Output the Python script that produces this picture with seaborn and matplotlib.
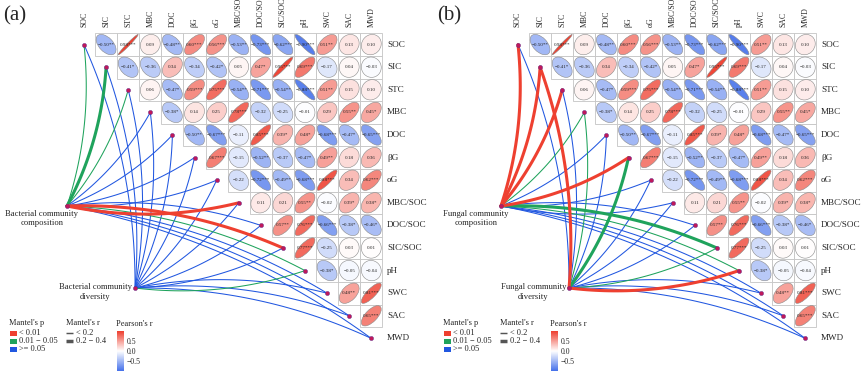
import numpy as np
import pandas as pd
import matplotlib
matplotlib.use("Agg")
import matplotlib.pyplot as plt
import seaborn as sns
from matplotlib.patches import Ellipse, Rectangle
from matplotlib.colors import LinearSegmentedColormap, Normalize
from matplotlib.cm import ScalarMappable

sns.set_theme(style="white")
plt.rcParams["font.family"] = ["Liberation Serif", "DejaVu Serif"]

variables = ["SOC", "SIC", "STC", "MBC", "DOC", "βG", "αG", "MBC/SOC",
             "DOC/SOC", "SIC/SOC", "pH", "SWC", "SAC", "MWD"]

# Pearson's r right of the diagonal, one list per row
row_soc = ["-0.50**", "0.98***", "0.09", "-0.48**", "0.60***", "0.56***", "-0.53**",
           "-0.73***", "-0.62***", "-0.90***", "0.51**", "0.13", "0.10"]
row_sic = ["-0.41*", "-0.36", "0.34", "-0.34", "-0.42*", "0.05", "0.47*", "0.95***",
           "0.69***", "-0.17", "0.04", "-0.03"]
row_stc = ["0.06", "-0.47*", "0.59***", "0.75***", "-0.54**", "-0.71***", "-0.54**",
           "-0.88***", "0.51**", "0.15", "0.10"]
row_mbc = ["-0.38*", "0.14", "0.25", "0.78***", "-0.32", "-0.25", "-0.01", "0.29",
           "0.55**", "0.45*"]
row_doc = ["-0.50**", "-0.67***", "-0.11", "0.85***", "0.39*", "0.48*", "-0.68***",
           "-0.47*", "-0.65***"]
row_bg = ["0.67***", "-0.15", "-0.52**", "-0.37", "-0.47*", "0.49**", "0.18", "0.36"]
row_ag = ["-0.22", "-0.72***", "-0.49**", "-0.68***", "0.88***", "0.34", "0.62***"]
row_mbc_soc = ["0.11", "0.21", "0.55**", "-0.02", "0.39*", "0.38*"]
row_doc_soc = ["0.57**", "0.76***", "-0.66***", "-0.38*", "-0.46*"]
row_sic_soc = ["0.77***", "-0.25", "0.03", "0.01"]
row_ph = ["-0.38*", "-0.05", "-0.04"]
row_swc = ["0.48**", "0.81***"]
row_sac = ["0.65***"]
matrix_rows = [row_soc, row_sic, row_stc, row_mbc, row_doc, row_bg, row_ag,
               row_mbc_soc, row_doc_soc, row_sic_soc, row_ph, row_swc, row_sac, []]

# Mantel test classes per variable: p 0 "<0.01", 1 "0.01-0.05", 2 ">=0.05"; r 0 "<0.2", 1 "0.2-0.4"
p_levels = ["< 0.01", "0.01 \u2212 0.05", ">= 0.05"]
r_levels = ["< 0.2", "0.2 \u2212 0.4"]
bact_comp_p = [1, 1, 1, 2, 2, 2, 2, 0, 2, 0, 1, 2, 2, 2]
bact_comp_r = [0, 1, 0, 0, 0, 0, 0, 1, 0, 1, 0, 0, 0, 0]
bact_div_p = [2, 2, 2, 2, 2, 2, 2, 2, 2, 2, 1, 2, 2, 2]
bact_div_r = [0, 0, 0, 0, 0, 0, 0, 0, 0, 0, 0, 0, 0, 0]
fung_comp_p = [0, 0, 0, 1, 2, 0, 2, 2, 2, 1, 1, 2, 2, 2]
fung_comp_r = [1, 1, 1, 0, 0, 1, 0, 0, 0, 1, 0, 0, 0, 0]
fung_div_p = [2, 0, 2, 1, 2, 1, 2, 2, 2, 1, 0, 2, 2, 2]
fung_div_r = [0, 1, 0, 0, 0, 1, 0, 0, 0, 0, 1, 0, 0, 0]

link_colors = {p_levels[0]: "#ee4030", p_levels[1]: "#1fa35c", p_levels[2]: "#2157e0"}
link_widths = {r_levels[0]: 0.75, r_levels[1]: 2.2}
cmap = LinearSegmentedColormap.from_list("pr", ["#4470ea", "#ffffff", "#ee3e2e"])
norm = Normalize(-1, 1)

# layout (pixels inside one panel)
W, H = 861, 377
CW, RH = 22.1, 22.6
X0, Y0 = 84, 44.6
COMP = (-0.77, 7.14)
DIV = (2.31, 10.77)


def px(x, y):
    return (x - X0) / CW, (y - Y0) / RH


def curve(start, end, rad=0.11, n=40):
    sx, sy = start[0], -start[1]
    ex, ey = end[0], -end[1]
    dx, dy = ex - sx, ey - sy
    f = rad if ey > sy else -rad
    cx, cy = (sx + ex) / 2 + f * dy, (sy + ey) / 2 - f * dx
    t = np.linspace(0, 1, n)
    x = (1 - t) ** 2 * sx + 2 * t * (1 - t) * cx + t ** 2 * ex
    y = (1 - t) ** 2 * sy + 2 * t * (1 - t) * cy + t ** 2 * ey
    return x, -y


def draw_panel(ax, offset, tag, name, comp_p, comp_r, div_p, div_r):
    n = len(variables)
    # links
    recs = []
    for node, ps, rs in [(COMP, comp_p, comp_r), (DIV, div_p, div_r)]:
        for i in range(n):
            x, y = curve(node, (i, i))
            lid = f"{node}-{i}"
            for a, b in zip(x, y):
                recs.append({"link": lid, "x": a, "y": b,
                             "p": p_levels[ps[i]], "r": r_levels[rs[i]]})
    links = pd.DataFrame(recs)
    sns.lineplot(data=links, x="x", y="y", units="link", estimator=None, sort=False,
                 hue="p", hue_order=p_levels[::-1], palette=link_colors,
                 size="r", size_order=r_levels, sizes=link_widths,
                 legend=False, ax=ax, zorder=1)

    # matrix cells
    for i, row in enumerate(matrix_rows):
        for k, lab in enumerate(row):
            j = i + 1 + k
            r = float(lab.rstrip("*"))
            ax.add_patch(Rectangle((j - 0.5, i - 0.5), 1, 1, facecolor="white",
                                   edgecolor="#c4c4c4", lw=0.6, zorder=2))
            s = 0.45
            ax.add_patch(Ellipse((j, i), 2 * s * np.sqrt(1 + abs(r)),
                                 2 * s * np.sqrt(1 - abs(r)),
                                 angle=-45 if r > 0 else 45,
                                 facecolor=cmap(norm(r)), edgecolor="#8a8a8a",
                                 lw=0.4, zorder=3))
            ax.text(j, i, lab.replace("-", "\u2212"), ha="center", va="center",
                    fontsize=3.6, color="#222222", zorder=4)

    # node dots
    dots = pd.DataFrame({"x": list(range(n)) + [COMP[0], DIV[0]],
                         "y": list(range(n)) + [COMP[1], DIV[1]]})
    sns.scatterplot(data=dots, x="x", y="y", color="#c0185a", s=9, linewidth=0.3,
                    edgecolor="#5a2a8a", ax=ax, zorder=5, legend=False)

    # labels
    for i, v in enumerate(variables):
        ax.text(i, -0.78, v, rotation=90, ha="center", va="bottom", fontsize=5.6)
        ax.text(13.71, i, v, ha="left", va="center", fontsize=6.6)
    ax.text(COMP[0] - 25 / CW, COMP[1] + 4 / RH, f"{name} community\ncomposition",
            ha="center", va="top", fontsize=6.2, linespacing=1.25)
    ax.text(DIV[0] - 3 / CW, DIV[1] - 5 / RH, f"{name} community\ndiversity",
            ha="right", va="top", fontsize=6.2, multialignment="center", linespacing=1.25)

    # legend: Mantel's p
    ax.text(*px(9, 323), "Mantel's p", ha="left", va="center", fontsize=6)
    for k, lev in enumerate(p_levels):
        yy = 333 + 8 * k
        x1, y1 = px(10, yy - 2.5)
        ax.add_patch(Rectangle((x1, y1), 7 / CW, 5 / RH,
                               facecolor=link_colors[lev], edgecolor="none"))
        ax.text(*px(19, yy), lev, ha="left", va="center", fontsize=6)
    # legend: Mantel's r
    ax.text(*px(66, 323), "Mantel's r", ha="left", va="center", fontsize=6)
    for k, lev in enumerate(r_levels):
        yy = 333 + 8 * k
        xa, ya = px(66, yy)
        xb, _ = px(73, yy)
        ax.plot([xa, xb], [ya, ya], color="#555555", lw=link_widths[lev] + 0.3,
                solid_capstyle="butt")
        ax.text(*px(76, yy), lev, ha="left", va="center", fontsize=6)
    ax.text(*px(116, 324), "Pearson's r", ha="left", va="center", fontsize=6)

    cax = fig.add_axes([(offset + 117) / W, (H - 371) / H, 7 / W, 40 / H])
    cb = fig.colorbar(ScalarMappable(norm=norm, cmap=cmap), cax=cax, ticks=[-0.5, 0, 0.5])
    cb.outline.set_visible(False)
    cb.ax.set_yticklabels(["\u22120.5", "0.0", "0.5"])
    cax.tick_params(labelsize=5.6, length=0, pad=2)

    ax.set_xlim((0 - X0) / CW, (430 - X0) / CW)
    ax.set_ylim((H - Y0) / RH, (0 - Y0) / RH)
    ax.axis("off")
    fig.text((offset + 3) / W, 1 - 16 / H, tag, ha="left", va="center", fontsize=15)


fig = plt.figure(figsize=(W / 100, H / 100), dpi=100)
ax_a = fig.add_axes([0, 0, 430 / W, 1])
ax_b = fig.add_axes([434 / W, 0, 430 / W, 1])
draw_panel(ax_a, 0, "(a)", "Bacterial", bact_comp_p, bact_comp_r, bact_div_p, bact_div_r)
draw_panel(ax_b, 434, "(b)", "Fungal", fung_comp_p, fung_comp_r, fung_div_p, fung_div_r)
fig.savefig("out.png", dpi=100)
